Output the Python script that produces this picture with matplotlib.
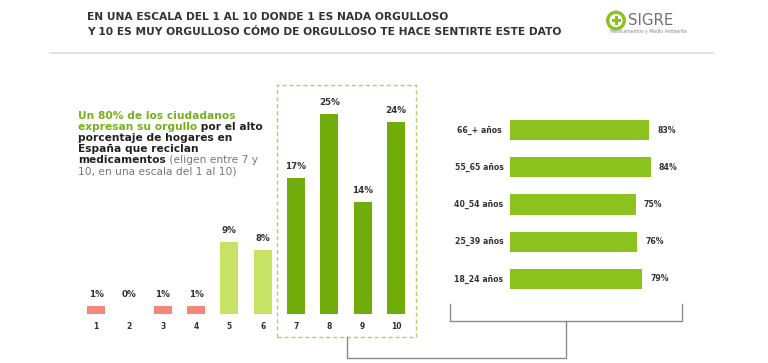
import matplotlib
matplotlib.use("Agg")
import matplotlib.pyplot as plt
from matplotlib.patches import Rectangle, Circle
from matplotlib.lines import Line2D
import matplotlib.transforms as mtransforms

# ---------------- data ----------------
scale_labels = ["1", "2", "3", "4", "5", "6", "7", "8", "9", "10"]
scale_values = [1, 0, 1, 1, 9, 8, 17, 25, 14, 24]
age_labels = ["66_+ años", "55_65 años", "40_54 años", "25_39 años", "18_24 años"]
age_values = [83, 84, 75, 76, 79]

title_lines = ["EN UNA ESCALA DEL 1 AL 10 DONDE 1 ES NADA ORGULLOSO",
               "Y 10 ES MUY ORGULLOSO CÓMO DE ORGULLOSO TE HACE SENTIRTE ESTE DATO"]

# ---------------- style ----------------
W, H = 768, 363
RED = "#F2877A"
LIGHT = "#C7E264"
DARK_G = "#70AD0A"
RIGHT_G = "#8CC21E"
TXT = "#222222"
GREEN_TXT = "#73B21B"
GREY_TXT = "#777777"
LINE_GREY = "#8A8A8A"

plt.rcParams['font.family'] = ['DejaVu Sans']

fig = plt.figure(figsize=(W / 100, H / 100), dpi=100)
fig.patch.set_facecolor("white")


def fx(x):
    return x / W


def fy(y):
    return 1 - y / H


def rect_px(x0, y0, x1, y1):
    return [fx(x0), fy(y1), (x1 - x0) / W, (y1 - y0) / H]


# ---------------- title & header ----------------
fig.text(fx(87), fy(17), title_lines[0], fontsize=7.7, fontweight="bold",
         color="#333333", va="center", ha="left")
fig.text(fx(87), fy(32), title_lines[1], fontsize=7.7, fontweight="bold",
         color="#333333", va="center", ha="left")
fig.add_artist(Line2D([fx(50), fx(713)], [fy(52.7), fy(52.7)],
                      color="#DDDDDD", lw=1.2, transform=fig.transFigure))

# logo
lax = fig.add_axes(rect_px(600, 5, 690, 38))
lax.set_xlim(600, 690)
lax.set_ylim(38, 5)
lax.axis("off")
lax.add_patch(Circle((616, 20.5), 8.3, fill=False, lw=2.4, ec=RIGHT_G))
lax.add_patch(Rectangle((611.5, 19.0), 9, 3, color=RIGHT_G, lw=0))
lax.add_patch(Rectangle((614.5, 16.0), 3, 9, color=RIGHT_G, lw=0))
lax.text(628, 20.5, "SIGRE", fontsize=10.8, color="#707070", va="center",
         ha="left")
lax.text(610, 31, "Medicamentos y Medio Ambiente", fontsize=3.3,
         color="#888888", va="center", ha="left")

# ---------------- left bar chart ----------------
ax = fig.add_axes(rect_px(79.3, 74, 412.7, 314))
xs = list(range(1, len(scale_values) + 1))
colors = [RED] * 4 + [LIGHT] * 2 + [DARK_G] * 4
bars = ax.bar(xs, scale_values, width=0.54, color=colors, lw=0)
ax.set_xlim(0.5, 10.5)
ax.set_ylim(0, 30)
for s in ax.spines.values():
    s.set_visible(False)
ax.set_yticks([])
ax.set_xticks(xs)
ax.set_xticklabels(scale_labels, fontsize=5.5, fontweight="bold", color="#333333")
ax.tick_params(axis="x", length=0, pad=6)
for x, v in zip(xs, scale_values):
    ax.annotate(f"{v}%", (x, max(v, 1)), xytext=(0, 7), textcoords="offset pixels",
                ha="center", va="bottom", fontsize=6.3, fontweight="bold",
                color="#333333")

# dashed box around 7-10
fig.add_artist(Rectangle((fx(277), fy(337)), (416 - 277) / W, (337 - 85) / H,
                         transform=fig.transFigure, fill=False, ec="#A9D46C",
                         lw=1.0, ls=(0, (3, 2))))

# ---------------- right bar chart ----------------
rax = fig.add_axes(rect_px(510, 111.4, 677.5, 297.6))
ys = list(range(len(age_values)))
rax.barh(ys, age_values, height=0.54, color=RIGHT_G, lw=0)
rax.set_xlim(0, 100)
rax.set_ylim(4.5, -0.5)
rax.axis("off")
blend = mtransforms.blended_transform_factory(fig.transFigure, rax.transData)
for y, lab, v in zip(ys, age_labels, age_values):
    rax.text(fx(479), y, lab, transform=blend, ha="center", va="center",
             fontsize=5.6, fontweight="bold", color="#333333")
    rax.annotate(f"{v}%", (v, y), xytext=(8, 0), textcoords="offset pixels",
                 ha="left", va="center", fontsize=5.6, fontweight="bold",
                 color="#333333")

# ---------------- connectors ----------------
fig.add_artist(Line2D([fx(347), fx(347), fx(566), fx(566)],
                      [fy(337), fy(358), fy(358), fy(321)],
                      color=LINE_GREY, lw=1.0, transform=fig.transFigure))
fig.add_artist(Line2D([fx(450), fx(450), fx(682), fx(682)],
                      [fy(304), fy(321), fy(321), fy(304)],
                      color=LINE_GREY, lw=1.0, transform=fig.transFigure))

# ---------------- annotation text ----------------
renderer = fig.canvas.get_renderer()
ann_lines = [
    [("Un 80% de los ciudadanos", GREEN_TXT, "bold")],
    [("expresan su orgullo", GREEN_TXT, "bold"), (" por el alto", TXT, "bold")],
    [("porcentaje de hogares en", TXT, "bold")],
    [("España que reciclan", TXT, "bold")],
    [("medicamentos", TXT, "bold"), (" (eligen entre 7 y", GREY_TXT, "normal")],
    [("10, en una escala del 1 al 10)", GREY_TXT, "normal")],
]
y0 = 116
for i, parts in enumerate(ann_lines):
    xcur = 78
    ycur = y0 + i * 11.1
    for txt, col, wt in parts:
        t = fig.text(fx(xcur), fy(ycur), txt, fontsize=7.7, fontweight=wt,
                     color=col, va="center", ha="left")
        bb = t.get_window_extent(renderer)
        xcur = bb.x1

fig.savefig("out.png", dpi=100, facecolor="white")
